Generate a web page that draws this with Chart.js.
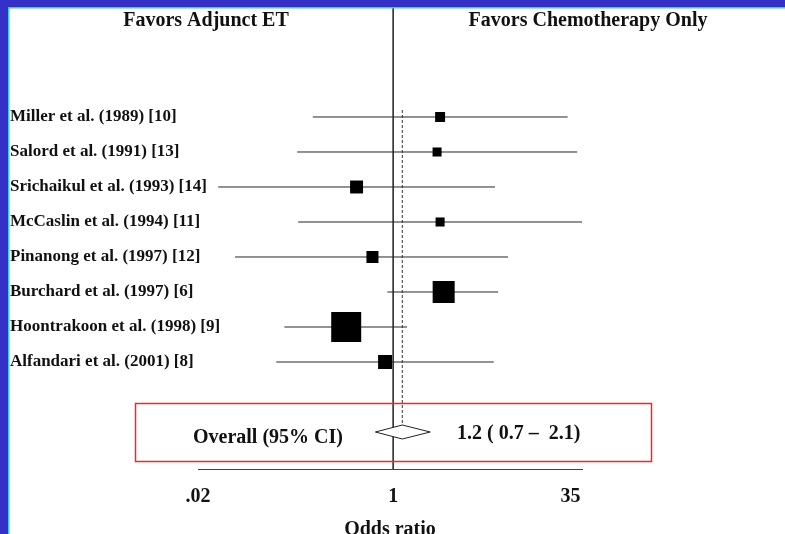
<!DOCTYPE html>
<html>
<head>
<meta charset="utf-8">
<script src="https://cdn.jsdelivr.net/npm/chart.js@4/dist/chart.umd.min.js"></script>
<style>
  html, body { margin: 0; padding: 0; background: #fff; }
  canvas { display: block; }
</style>
</head>
<body>
<canvas id="chart01" width="785" height="534"></canvas>
<script>
// study data
const studies = [
  "Miller et al. (1989) [10]",
  "Salord et al. (1991) [13]",
  "Srichaikul et al. (1993) [14]",
  "McCaslin et al. (1994) [11]",
  "Pinanong et al. (1997) [12]",
  "Burchard et al. (1997) [6]",
  "Hoontrakoon et al. (1998) [9]",
  "Alfandari et al. (2001) [8]"
];
const oddsRatio = [2.56, 2.41, 0.48, 2.56, 0.66, 2.75, 0.39, 0.85];
const ciLow     = [0.20, 0.146, 0.030, 0.149, 0.042, 0.89, 0.113, 0.096];
const ciHigh    = [33, 40, 7.7, 44, 10, 8.2, 1.32, 7.5];
const weights   = [4.6, 3.8, 7.8, 3.8, 6.7, 22.5, 41.8, 9.1];   // % weight -> square area

const overall = [0.7, 1.2, 2.1];      // low, estimate, high
const overallLabel = "Overall (95% CI)";
const overallText = "1.2 ( 0.7 \u2013  2.1)";

const xTicks = [0.02, 1, 35];
const xTickLabels = [".02", "1", "35"];
const headers = ["Favors Adjunct ET", "Favors Chemotherapy Only"];
const axisTitle = "Odds ratio";

const rows = studies.map(function (s, i) { return i + 1; });
const overallRow = 10;
const yMin = -2.114, yMax = 11.057;

const SERIF = "'Liberation Serif', 'Times New Roman', serif";

function squareRadius(w) {
  // side of square ~ sqrt(weight); rect point side = 2*SQRT1_2*r
  var side = Math.sqrt(w) * 4.64;
  return side / (2 * Math.SQRT1_2);
}

var datasets = [];

// confidence interval lines
for (var i = 0; i < studies.length; i++) {
  datasets.push({
    type: 'line',
    data: [{x: ciLow[i], y: rows[i]}, {x: ciHigh[i], y: rows[i]}],
    borderColor: '#262626',
    borderWidth: 1,
    pointRadius: 0,
    fill: false,
    order: 3
  });
}

// line of no effect
datasets.push({
  type: 'line',
  data: [{x: 1, y: yMin}, {x: 1, y: yMax}],
  borderColor: '#333',
  borderWidth: 1,
  pointRadius: 0,
  order: 4
});

// dashed line at the pooled estimate
datasets.push({
  type: 'line',
  data: [{x: overall[1], y: 0.8}, {x: overall[1], y: overallRow}],
  borderColor: '#333',
  borderWidth: 1,
  borderDash: [3, 2],
  pointRadius: 0,
  order: 4
});

// study squares
datasets.push({
  type: 'scatter',
  data: oddsRatio.map(function (v, i) { return {x: v, y: rows[i]}; }),
  pointStyle: 'rect',
  pointRadius: weights.map(squareRadius),
  pointBackgroundColor: '#000',
  pointBorderWidth: 0,
  order: 1
});

// pooled diamond
datasets.push({
  type: 'line',
  data: [
    {x: overall[0], y: overallRow},
    {x: overall[1], y: overallRow - 0.2},
    {x: overall[2], y: overallRow},
    {x: overall[1], y: overallRow + 0.2},
    {x: overall[0], y: overallRow}
  ],
  borderColor: '#222',
  borderWidth: 1,
  backgroundColor: '#fff',
  fill: 'shape',
  pointRadius: 0,
  tension: 0,
  order: 2
});

const textPlugin = {
  id: 'forestText',
  afterDraw: function (chart) {
    var ctx = chart.ctx;
    var y = chart.scales.y;
    ctx.save();
    ctx.fillStyle = '#111';

    // study labels
    ctx.font = 'bold 17px ' + SERIF;
    ctx.textAlign = 'left';
    ctx.textBaseline = 'alphabetic';
    for (var i = 0; i < studies.length; i++) {
      ctx.fillText(studies[i], 10, y.getPixelForValue(rows[i]) + 4);
    }

    // headers
    ctx.font = 'bold 20px ' + SERIF;
    ctx.textAlign = 'center';
    ctx.fillText(headers[0], 206, 26);
    ctx.fillText(headers[1], 588, 26);

    // overall row text
    var oy = y.getPixelForValue(overallRow);
    ctx.textAlign = 'left';
    ctx.fillText(overallLabel, 193, oy + 11);
    ctx.fillText(overallText, 457, oy + 7);

    // red box round the overall row
    ctx.strokeStyle = '#ff2020';
    ctx.lineWidth = 1.5;
    ctx.strokeRect(135.5, Math.round(y.getPixelForValue(overallRow - 0.83)) + 0.5, 516, 58);

    // blue frame
    ctx.fillStyle = '#3430c8';
    ctx.fillRect(0, 0, chart.width, 7);
    ctx.fillRect(0, 0, 8, chart.height);
    ctx.fillStyle = '#38c8f0';
    ctx.fillRect(8, 7, chart.width - 8, 1.5);
    ctx.fillRect(8, 7, 1.5, chart.height - 7);
    ctx.restore();
  }
};

const bgPlugin = {
  id: 'bg',
  beforeDraw: function (chart) {
    var ctx = chart.ctx;
    ctx.save();
    ctx.fillStyle = '#fff';
    ctx.fillRect(0, 0, chart.width, chart.height);
    ctx.restore();
  }
};

var ctx = document.getElementById('chart01').getContext('2d');
var myChart = new Chart(ctx, {
  data: { datasets: datasets },
  options: {
    responsive: false,
    animation: false,
    devicePixelRatio: 1,
    layout: { autoPadding: false, padding: { top: 8, left: 198, right: 203, bottom: 0 } },
    plugins: { legend: { display: false }, tooltip: { enabled: false } },
    scales: {
      x: {
        type: 'logarithmic',
        position: 'bottom',
        min: 0.02,
        max: 44,
        grid: { display: false, drawTicks: false },
        border: { display: true, color: '#444', width: 1 },
        afterBuildTicks: function (scale) {
          scale.ticks = xTicks.map(function (v) { return {value: v}; });
        },
        afterFit: function (scale) { scale.height = 65; },
        ticks: {
          autoSkip: false,
          maxRotation: 0,
          padding: 16,
          color: '#111',
          font: { family: SERIF, size: 20, weight: 'bold' },
          callback: function (value, index) { return xTickLabels[index]; }
        },
        title: {
          display: true,
          text: axisTitle,
          color: '#111',
          font: { family: SERIF, size: 20, weight: 'bold' },
          padding: { top: 0, bottom: -8 }
        }
      },
      y: {
        type: 'linear',
        display: false,
        reverse: true,
        min: yMin,
        max: yMax
      }
    }
  },
  plugins: [bgPlugin, textPlugin]
});
</script>
</body>
</html>
